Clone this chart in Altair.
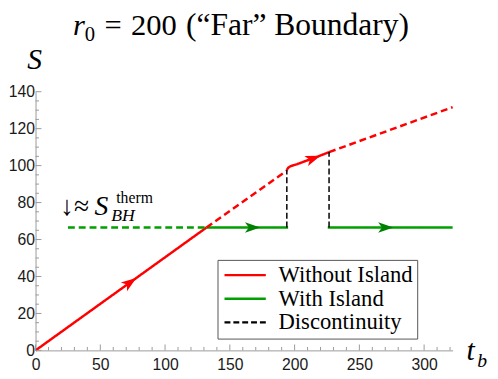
import altair as alt
import pandas as pd

# ---------------- data ----------------
series_names = ["Without Island", "With Island", "Discontinuity"]
series_colors = ["#ff0000", "#00a000", "#000000"]

# Without Island (red)
red_solid1_t = [0, 132]
red_solid1_S = [0, 66.5]
red_dash1_t = [132, 194]
red_dash1_S = [66.5, 97.3]
red_curve_t = [194, 195, 197, 202, 210.8, 218.3, 226.6]
red_curve_S = [97.6, 98.8, 99.7, 100.8, 103.1, 105.0, 107.3]
red_dash2_t = [226.6, 322]
red_dash2_S = [107.3, 131.6]

# With Island (green)
green_dash_t = [25, 132]
green_dash_S = [66.5, 66.5]
green_solid1_t = [132, 195]
green_solid1_S = [66.5, 66.5]
green_solid2_t = [225.6, 322]
green_solid2_S = [66.5, 66.5]

# Discontinuities (black dashed)
disc1_t = [194, 194]
disc1_S = [66.5, 97.6]
disc2_t = [226.6, 226.6]
disc2_S = [66.5, 107.3]

# direction arrows
arrow_series = ["Without Island", "Without Island", "With Island", "With Island"]
arrow_t = [73, 214.5, 167.6, 270.4]
arrow_S = [36.8, 103.9, 66.5, 66.5]
arrow_angle = [324.4, 340, 0, 0]

# axis ticks
x_major_ticks = [0, 50, 100, 150, 200, 250, 300]
x_minor_ticks = [10, 20, 30, 40, 60, 70, 80, 90, 110, 120, 130, 140, 160, 170, 180, 190,
                 210, 220, 230, 240, 260, 270, 280, 290, 310, 320]
y_major_ticks = [0, 20, 40, 60, 80, 100, 120, 140]
y_minor_ticks = [5, 10, 15, 25, 30, 35, 45, 50, 55, 65, 70, 75, 85, 90, 95,
                 105, 110, 115, 125, 130, 135]


def rows(series, seg, ts, Ss):
    return [{"series": series, "seg": seg, "t": t, "S": s, "ord": i}
            for i, (t, s) in enumerate(zip(ts, Ss))]


solid_df = pd.DataFrame(
    rows("Without Island", "r1", red_solid1_t, red_solid1_S)
    + rows("Without Island", "r2", red_curve_t, red_curve_S)
    + rows("With Island", "g1", green_solid1_t, green_solid1_S)
    + rows("With Island", "g2", green_solid2_t, green_solid2_S)
)
dash_df = pd.DataFrame(
    rows("Without Island", "rd1", red_dash1_t, red_dash1_S)
    + rows("Without Island", "rd2", red_dash2_t, red_dash2_S)
    + rows("With Island", "gd1", green_dash_t, green_dash_S)
)
disc_df = pd.DataFrame(
    rows("Discontinuity", "d1", disc1_t, disc1_S)
    + rows("Discontinuity", "d2", disc2_t, disc2_S)
)
arrow_df = pd.DataFrame({"series": arrow_series, "t": arrow_t, "S": arrow_S,
                         "angle": arrow_angle})

W, H = 424, 263
AX = "#9a9a9a"
SERIF = "Liberation Serif"

xs = alt.Scale(domain=[0, 322], nice=False, zero=False)
ys = alt.Scale(domain=[0, 140], nice=False, zero=False)

xaxis = alt.Axis(values=x_major_ticks, ticks=False, grid=False, domainColor=AX,
                 labelFont="Liberation Sans", labelFontSize=16, labelColor="#1a1a1a",
                 labelPadding=6, labelFlush=False, title=None)
yaxis = alt.Axis(values=y_major_ticks, ticks=False, grid=False, domainColor=AX,
                 labelFont="Liberation Sans", labelFontSize=16, labelColor="#1a1a1a",
                 labelPadding=1, labelFlush=False, title=None)

X = alt.X("t:Q", scale=xs, axis=xaxis)
Y = alt.Y("S:Q", scale=ys, axis=yaxis)

color_scale = alt.Scale(domain=series_names, range=series_colors)
dash_scale = alt.Scale(domain=series_names, range=[[1, 0], [1, 0], [6, 3]])
legend = alt.Legend(title=None, orient="none", legendX=185, legendY=171,
                    symbolType="M-1,0H4", symbolSize=282, symbolStrokeWidth=2.5,
                    labelFont=SERIF, labelFontSize=23, labelColor="black",
                    labelOffset=35, rowPadding=-5, padding=4, strokeColor="#555555",
                    fillColor="white", labelLimit=400)

color_enc = alt.Color("series:N", scale=color_scale, legend=legend)
dash_enc = alt.StrokeDash("series:N", scale=dash_scale, legend=legend)


solid = alt.Chart(solid_df).mark_line(strokeWidth=2.5, strokeCap="butt").encode(
    x=X, y=Y, color=color_enc, strokeDash=dash_enc, detail="seg:N", order="ord:Q")

disc = alt.Chart(disc_df).mark_line(strokeWidth=1.5).encode(
    x=X, y=Y, color=color_enc, strokeDash=dash_enc, detail="seg:N", order="ord:Q")

dashed = alt.Chart(dash_df).mark_line(strokeWidth=2.5, strokeDash=[7, 4]).encode(
    x=X, y=Y, color=color_enc, detail="seg:N", order="ord:Q")

arrows = alt.Chart(arrow_df).mark_point(
    shape="M1,0L-1,-0.7L-0.5,0L-1,0.7Z", filled=True, size=240, opacity=1, strokeWidth=0
).encode(
    x=X, y=Y, angle=alt.Angle("angle:Q", scale=None),
    fill=alt.Fill("series:N", scale=alt.Scale(domain=["Without Island", "With Island"],
                                              range=["#ff0000", "#008000"]), legend=None))


# inward ticks (drawn with the same scales)
def xticks(vals, length):
    d = pd.DataFrame({"t": vals})
    return alt.Chart(d).mark_rule(color=AX, strokeWidth=1).encode(
        x=X, y=alt.value(H), y2=alt.value(H - length))


def yticks(vals, length):
    d = pd.DataFrame({"S": vals})
    return alt.Chart(d).mark_rule(color=AX, strokeWidth=1).encode(
        y=Y, x=alt.value(0), x2=alt.value(length))


dummy = pd.DataFrame({"k": [0]})


def txt(s, x, y, size, italic=False, align="left", font=SERIF):
    return alt.Chart(dummy).mark_text(
        text=s, align=align, baseline="alphabetic", font=font, fontSize=size,
        fontStyle="italic" if italic else "normal", color="black"
    ).encode(x=alt.value(x), y=alt.value(y))


texts = [
    # title
    txt("r", 38, -58, 31, italic=True),
    txt("0", 50, -52, 21),
    txt("=", 70, -58, 31),
    txt("200", 97, -58, 31),
    txt("(\u201cFar\u201d Boundary)", 153, -58, 32),
    # axis names
    txt("S", -1, -23, 30, italic=True, align="center"),
    txt("t", 438, 273, 30, italic=True),
    txt("b", 449, 280, 20, italic=True),
    # annotation
    txt("\u2193\u2248", 25, 125, 28),
    txt("S", 60, 125, 28, italic=True),
    txt("therm", 82, 113, 16),
    txt("BH", 77, 131, 18, italic=True),
]

chart = alt.layer(
    solid, dashed, disc, arrows,
    xticks(x_major_ticks, 6), xticks(x_minor_ticks, 3.5),
    yticks(y_major_ticks, 6), yticks(y_minor_ticks, 3.5),
    *texts
).properties(
    width=W, height=H,
    autosize=alt.AutoSizeParams(type="none"),
    padding={"left": 28, "top": 82, "right": 38, "bottom": 26},
).configure_view(stroke=None).configure_legend(labelFont=SERIF)

chart.save("out.html", embed_options={"renderer": "svg", "actions": False})
